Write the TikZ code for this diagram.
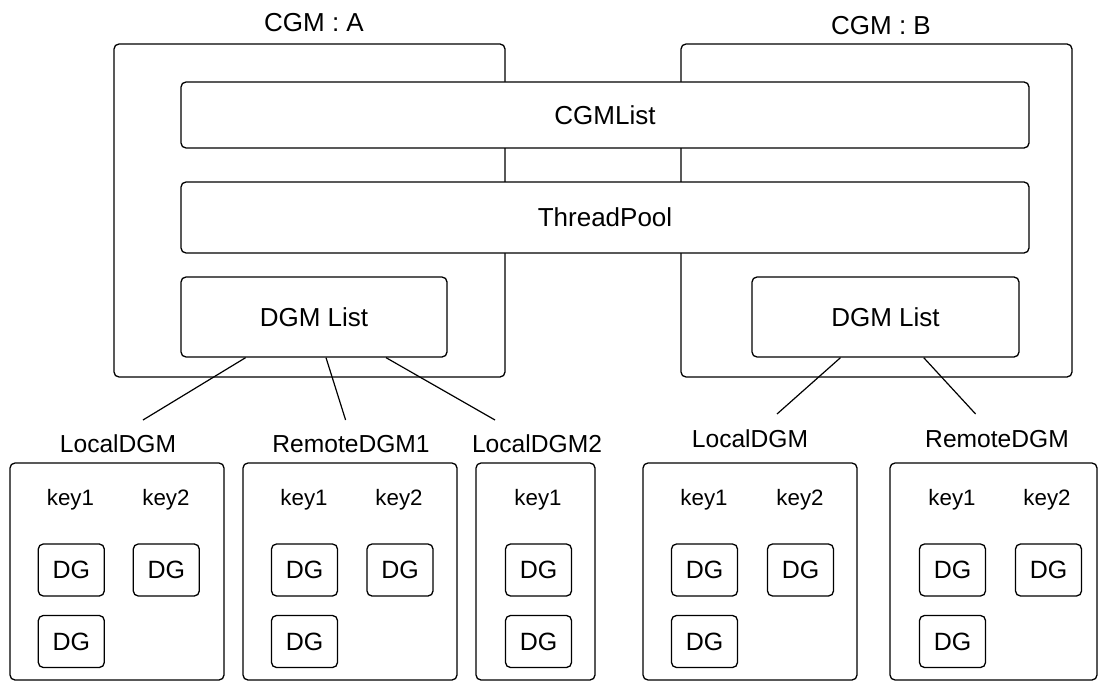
\documentclass[tikz,border=0pt]{standalone}
\usepackage{fontspec}
\setmainfont{Liberation Sans}
\begin{document}
\begin{tikzpicture}[x=1pt,y=-1pt,
  box/.style={draw=black, line width=1.3pt, rounded corners=5pt, fill=white,
    inner sep=0pt, font=\fontsize{26}{30}\selectfont},
  dgbox/.style={box, minimum width=66pt, minimum height=52pt, font=\fontsize{25}{29}\selectfont},
  keylbl/.style={inner sep=0pt, anchor=base, font=\fontsize{22.3}{26}\selectfont},
  cgmtitle/.style={inner sep=0pt, font=\fontsize{26}{30}\selectfont},
  dgmname/.style={inner sep=0pt, font=\fontsize{24.6}{28}\selectfont},
  link/.style={draw=black, line width=1.2pt}]
\useasboundingbox (0,0) rectangle (1100,682);

% the two CGM containers
\node[box, minimum width=391pt, minimum height=333pt] (cgmA) at (309.5,210.5) {};
\node[box, minimum width=391pt, minimum height=333pt] (cgmB) at (876.5,210.5) {};
\node[cgmtitle] (titleA) at (314,23) {CGM : A};
\node[cgmtitle] (titleB) at (881,26) {CGM : B};

% shared bars
\node[box, minimum width=848pt, minimum height=66pt] (cgmlist) at (605,115) {CGMList};
\node[box, minimum width=848pt, minimum height=71pt] (pool) at (605,217.5) {ThreadPool};

% DGM lists
\node[box, minimum width=266pt, minimum height=80pt] (dgmA) at (314,317) {DGM List};
\node[box, minimum width=267pt, minimum height=80pt] (dgmB) at (885.5,317) {DGM List};

% DGM boxes
\node[box, minimum width=214pt, minimum height=217pt] (b1) at (117,571.5) {};
\node[box, minimum width=214pt, minimum height=217pt] (b2) at (350,571.5) {};
\node[box, minimum width=119pt, minimum height=217pt] (b3) at (535.5,571.5) {};
\node[box, minimum width=214pt, minimum height=217pt] (b4) at (750,571.5) {};
\node[box, minimum width=207pt, minimum height=217pt] (b5) at (993.5,571.5) {};

% DGM names
\node[dgmname] (n1) at (118,444) {LocalDGM};
\node[dgmname] (n2) at (351,444) {RemoteDGM1};
\node[dgmname] (n3) at (537,444) {LocalDGM2};
\node[dgmname] (n4) at (750,439) {LocalDGM};
\node[dgmname] (n5) at (997,439) {RemoteDGM};

% keys
\node[keylbl] (k11) at (70.5,505) {key1};
\node[keylbl] (k12) at (166,505) {key2};
\node[keylbl] (k21) at (304,505) {key1};
\node[keylbl] (k22) at (399,505) {key2};
\node[keylbl] (k31) at (538,505) {key1};
\node[keylbl] (k41) at (704,505) {key1};
\node[keylbl] (k42) at (800,505) {key2};
\node[keylbl] (k51) at (952,505) {key1};
\node[keylbl] (k52) at (1047,505) {key2};

% DG entries
\node[dgbox] (d11) at (71.3,570) {DG};
\node[dgbox] (d12) at (166.3,570) {DG};
\node[dgbox] (d13) at (71.3,641.5) {DG};
\node[dgbox] (d21) at (304.5,570) {DG};
\node[dgbox] (d22) at (400,570) {DG};
\node[dgbox] (d23) at (304.5,641.5) {DG};
\node[dgbox] (d31) at (538.5,570) {DG};
\node[dgbox] (d32) at (538.5,641.5) {DG};
\node[dgbox] (d41) at (704.5,570) {DG};
\node[dgbox] (d42) at (800.5,570) {DG};
\node[dgbox] (d43) at (704.5,641.5) {DG};
\node[dgbox] (d51) at (952.5,570) {DG};
\node[dgbox] (d52) at (1048.5,570) {DG};
\node[dgbox] (d53) at (952.5,641.5) {DG};

% connector ends above the names
\coordinate (e1) at (143,420);
\coordinate (e2) at (345.6,420);
\coordinate (e3) at (495,420);
\coordinate (e4) at (777,414);
\coordinate (e5) at (975.6,414);

\draw[link] ([xshift=-68.4pt]dgmA.south) -- (e1);
\draw[link] ([xshift=12pt]dgmA.south) -- (e2);
\draw[link] ([xshift=72pt]dgmA.south) -- (e3);
\draw[link] ([xshift=-45pt]dgmB.south) -- (e4);
\draw[link] ([xshift=38.2pt]dgmB.south) -- (e5);
\end{tikzpicture}
\end{document}
